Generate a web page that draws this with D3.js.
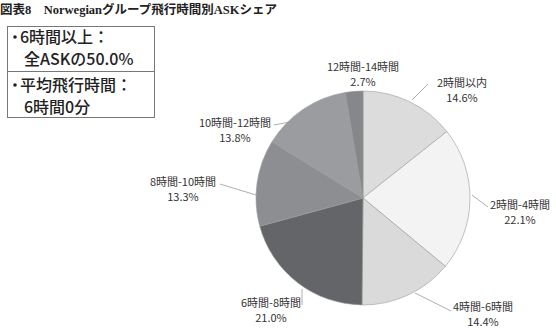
<!DOCTYPE html>
<html>
<head>
<meta charset="utf-8">
<script src="https://cdn.jsdelivr.net/npm/d3@7"></script>
<style>
  body { margin: 0; background: #fff; }
  svg text { font-family: "Noto Sans CJK JP", "Noto Sans", sans-serif; }
</style>
</head>
<body>
<div id="chart"></div>
<script>
// share of ASK by flight time band
const categories = ['2時間以内', '2時間-4時間', '4時間-6時間', '6時間-8時間', '8時間-10時間', '10時間-12時間', '12時間-14時間'];
const shares = [14.6, 22.1, 14.4, 21.0, 13.3, 13.8, 2.7];
const sliceColors = ['#dcdcdc', '#f3f3f3', '#dadada', '#646568', '#8d8e91', '#9b9c9f', '#86878a'];
const noteLines = [['6時間以上：', '全ASKの50.0%'], ['平均飛行時間：', '6時間0分']];

const width = 556, height = 335;
const cx = 363, cy = 198, r = 107;

const svg = d3.select('#chart').append('svg')
  .attr('width', width).attr('height', height);

// title
svg.append('text')
  .attr('x', 0).attr('y', 14)
  .style('font-family', '"Liberation Serif", "DejaVu Serif", "Noto Sans CJK JP", serif')
  .style('font-weight', 'bold')
  .style('font-size', '12.5px')
  .attr('fill', '#222')
  .text('図表8　Norwegianグループ飛行時間別ASKシェア');

// note boxes
const box = svg.append('g');
box.append('rect').attr('x', 7.5).attr('y', 26.5).attr('width', 147).attr('height', 45)
  .attr('fill', '#fff').attr('stroke', '#777');
box.append('rect').attr('x', 7.5).attr('y', 71.5).attr('width', 147).attr('height', 46)
  .attr('fill', '#fff').attr('stroke', '#777');
noteLines.forEach((lines, i) => {
  const y0 = 43 + i * 48;
  box.append('circle').attr('cx', 15).attr('cy', y0 - 6).attr('r', 1.8).attr('fill', '#222');
  box.append('text')
    .attr('x', 20).attr('y', y0)
    .style('font-size', '16px').style('font-weight', 500)
    .attr('fill', '#222')
    .text(lines[0]);
  box.append('text')
    .attr('x', 24).attr('y', y0 + 22)
    .style('font-size', '16px').style('font-weight', 500)
    .attr('fill', '#222')
    .text(lines[1]);
});

// pie
const pie = d3.pie().sort(null).value(d => d);
const arc = d3.arc().innerRadius(0).outerRadius(r);
const arcs = pie(shares);

const g = svg.append('g').attr('transform', `translate(${cx},${cy})`);
g.selectAll('path').data(arcs).enter().append('path')
  .attr('d', arc)
  .attr('fill', (d, i) => sliceColors[i])
  .attr('stroke', '#9a9a9a')
  .attr('stroke-width', 0.6);

// label placement (text anchor point, leader line end)
const labelPos = [
  { x: 462, y: 87, line: [[412, 100], [428, 84]] },
  { x: 520, y: 209, line: [[472, 195], [488, 207]] },
  { x: 483, y: 311, line: [[415, 293], [451, 311]] },
  { x: 271, y: 307, line: [[302, 289], [302, 305]] },
  { x: 183, y: 186, line: [[256, 195], [220, 184]] },
  { x: 235, y: 127, line: [[295, 121], [274, 125]] },
  { x: 363, y: 71, line: null }
];

const labels = svg.append('g');
arcs.forEach((d, i) => {
  const p = labelPos[i];
  if (p.line) {
    labels.append('path')
      .attr('d', d3.line()(p.line))
      .attr('fill', 'none')
      .attr('stroke', '#999')
      .attr('stroke-width', 0.8);
  }
  const t = labels.append('text')
    .attr('x', p.x).attr('y', p.y)
    .attr('text-anchor', 'middle')
    .style('font-size', '11px')
    .attr('fill', '#333');
  t.append('tspan').attr('x', p.x).text(categories[i]);
  t.append('tspan').attr('x', p.x).attr('dy', 14.5).text(d3.format('.1f')(shares[i]) + '%');
});
</script>
</body>
</html>
